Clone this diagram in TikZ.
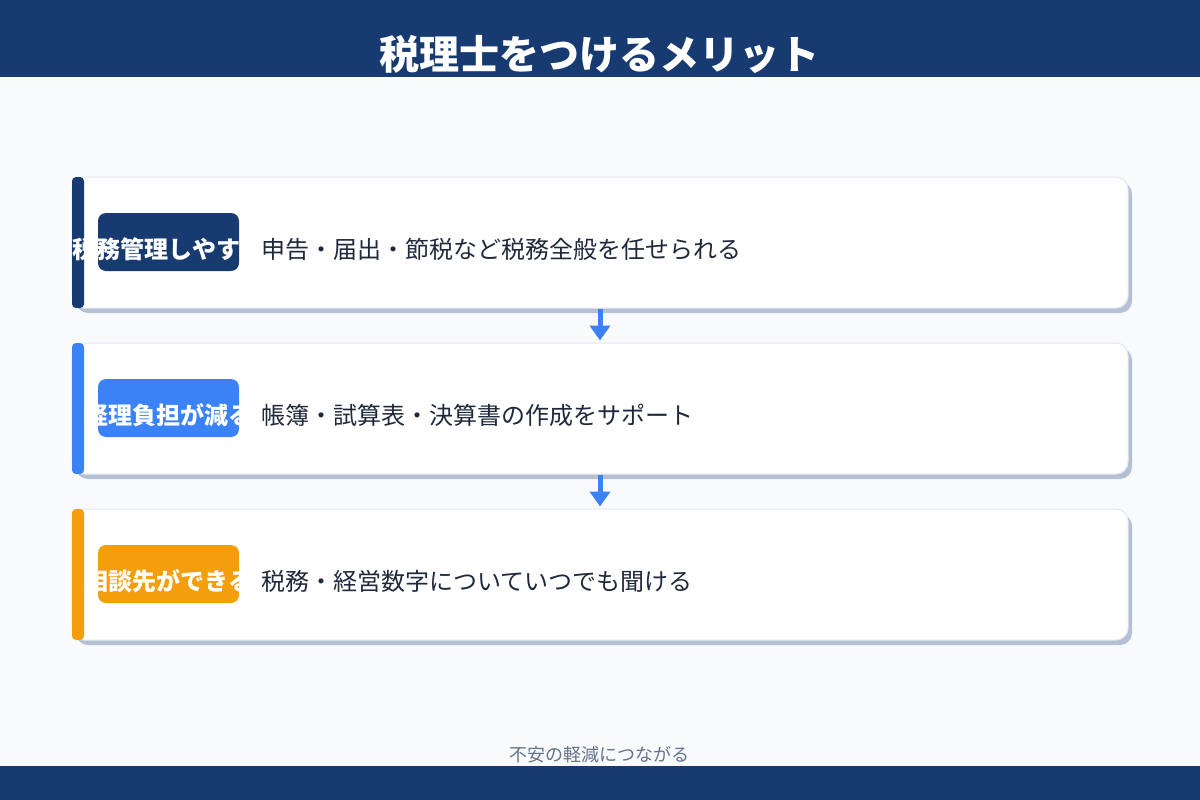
\documentclass[tikz,border=0pt]{standalone}
\usepackage{fontspec}
\setmainfont{Noto Sans CJK JP}
\usetikzlibrary{arrows.meta}
\definecolor{navy}{HTML}{173A70}
\definecolor{accentblue}{HTML}{3B82F6}
\definecolor{accentorange}{HTML}{F59E0B}
\definecolor{pagebg}{HTML}{F8FAFC}
\definecolor{cardline}{HTML}{E2E8F0}
\definecolor{cardshadow}{HTML}{B5C0D5}
\definecolor{bodytext}{HTML}{1E293B}
\definecolor{notetext}{HTML}{64748B}
\begin{document}
\begin{tikzpicture}[x=1pt,y=-1pt,
    card/.style={draw=cardline,line width=1pt,fill=white,rounded corners=12pt,
      minimum width=1056pt,minimum height=131pt,inner sep=0pt},
    tagbox/.style={rounded corners=8pt,minimum width=141pt,minimum height=58pt,inner sep=0pt},
    tagtext/.style={text=white,inner sep=0pt,font=\bfseries\fontsize{24}{28}\selectfont},
    desc/.style={text=bodytext,inner sep=0pt,font=\fontsize{24}{28}\selectfont},
    flowarrow/.style={accentblue,line width=5pt,-{Triangle[width=20pt,length=15pt]},shorten >=2pt}]
  % page, header and footer bands
  \useasboundingbox (0,0) rectangle (1200,800);
  \fill[pagebg] (0,0) rectangle (1200,800);
  \fill[navy] (0,0) rectangle (1200,77);
  \fill[navy] (0,766) rectangle (1200,800);
  \node[anchor=base,text=white,inner sep=0pt,font=\bfseries\fontsize{40}{48}\selectfont] (title) at (599,70) {税理士をつけるメリット};
  % the three cards
  \foreach \i/\t/\c/\lbl/\txt in {1/177/navy/税務管理しやすい/申告・届出・節税など税務全般を任せられる,
      2/343/accentblue/経理負担が減る/帳簿・試算表・決算書の作成をサポート,
      3/509/accentorange/相談先ができる/税務・経営数字についていつでも聞ける}{
    \fill[cardshadow,rounded corners=12pt] (76,\t+5) rectangle (1132,\t+136);
    \node[card] (card\i) at (600,\t+65.5) {};
    \fill[\c,rounded corners=4pt] (72,\t) rectangle (84,\t+131);
    \node[tagbox,fill=\c] (tag\i) at (168.5,\t+65) {};
    \begin{scope}
      \clip (72,\t) rectangle (239,\t+131);
      \node[tagtext,anchor=base] (tagtext\i) at (168.5,\t+81.5) {\lbl};
    \end{scope}
    \node[desc,anchor=base west] (desc\i) at (261,\t+81.5) {\txt};
  }
  % arrows between cards
  \draw[flowarrow] (card1.south) -- (card2.north);
  \draw[flowarrow] (card2.south) -- (card3.north);
  \node[anchor=base,text=notetext,inner sep=0pt,font=\fontsize{18}{20}\selectfont] (note) at (599.5,761) {不安の軽減につながる};
\end{tikzpicture}
\end{document}
